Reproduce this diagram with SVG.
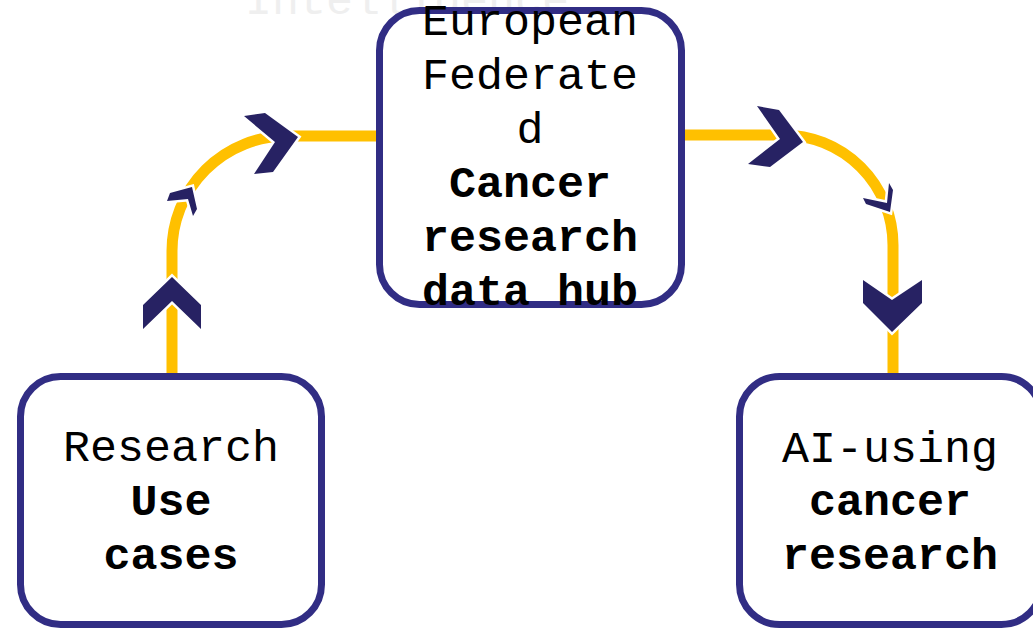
<svg xmlns="http://www.w3.org/2000/svg" width="1033" height="630" viewBox="0 0 1033 630">
<style>
.box{fill:#fff;stroke:#312d84;stroke-width:7}
.t{font-family:"Courier New","Nimbus Mono PS","Nimbus Mono L",FreeMono,"Liberation Mono",monospace;font-size:45px;fill:#000;text-anchor:middle}
.b{font-weight:bold}
.line{fill:none;stroke:#FFC000;stroke-width:11}
.chev{fill:#272263;stroke:#fff;stroke-width:5;paint-order:stroke;stroke-linejoin:miter}
.ghost{font-family:"Courier New","Nimbus Mono PS",FreeMono,"Liberation Mono",monospace;font-size:45px;fill:#efefef}
</style>
<rect width="1033" height="630" fill="#fff"/>
<text class="ghost" x="245" y="14">Intelligence</text>
<g id="connectors">
<path class="line" d="M172,376 V251 A115,115 0 0 1 287,136 H380"/>
<path class="line" d="M682,135 H783 A110,110 0 0 1 893,245 V376"/>
<polygon class="chev" points="172,277 201,305 201,329 172,301 143,329 143,305"/>
<polygon class="chev" points="170,193 192,187 197,209 193,216 188,199 167,201"/>
<polygon class="chev" points="244,116 265,113 298,137 273,172 254,174 275,142"/>
<polygon class="chev" points="757,106 779,110 803,142 770,167 748,164 780,139"/>
<polygon class="chev" points="863,198 887,203 889,183 893,190 890,212 866,204"/>
<polygon class="chev" points="863,280 892,300 922,280 922,303 892,332 863,303"/>
</g>
<g id="node-hub">
<rect class="box" x="379.5" y="10.5" width="302" height="294" rx="40"/>
<text class="t" x="530" y="35">European</text>
<text class="t" x="530" y="89">Federate</text>
<text class="t" x="530" y="143">d</text>
<text class="t b" x="530" y="197">Cancer</text>
<text class="t b" x="530" y="251">research</text>
<text class="t b" x="530" y="305">data hub</text>
</g>
<g id="node-research">
<rect class="box" x="20.5" y="376.5" width="301" height="248" rx="40"/>
<text class="t" x="171" y="461">Research</text>
<text class="t b" x="171" y="515">Use</text>
<text class="t b" x="171" y="569">cases</text>
</g>
<g id="node-ai">
<rect class="box" x="739.5" y="376.5" width="302" height="248" rx="40"/>
<text class="t" x="890" y="462">AI-using</text>
<text class="t b" x="890" y="515">cancer</text>
<text class="t b" x="890" y="569">research</text>
</g>
</svg>
